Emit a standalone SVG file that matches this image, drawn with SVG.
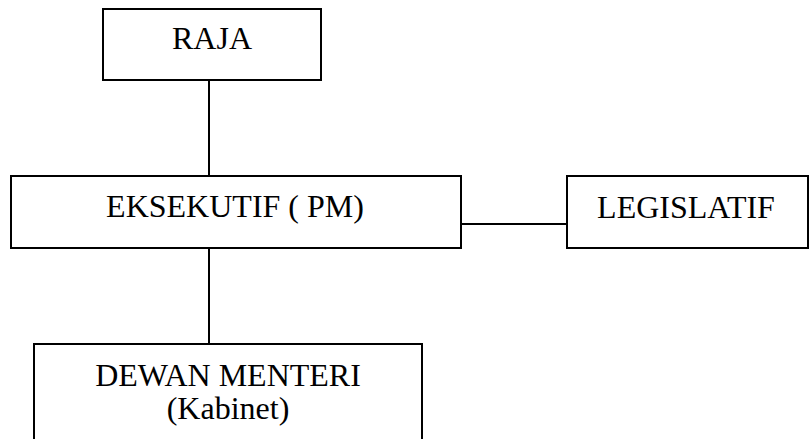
<svg xmlns="http://www.w3.org/2000/svg" width="809" height="439" viewBox="0 0 809 439">
<style>
.box{fill:#fff;stroke:#000;stroke-width:2}
.ln{stroke:#000;stroke-width:2;fill:none}
.t{font-family:"Liberation Serif","Times New Roman",serif;font-size:32px;fill:#000;text-anchor:middle}
</style>
<rect width="809" height="439" fill="#fff"/>
<g id="connectors">
<line class="ln" x1="209" y1="80" x2="209" y2="176"/>
<line class="ln" x1="209" y1="248" x2="209" y2="344"/>
<line class="ln" x1="461" y1="224" x2="567" y2="224"/>
</g>
<g id="raja">
<rect class="box" x="103" y="9" width="218" height="71"/>
<text class="t" x="212" y="49">RAJA</text>
</g>
<g id="eksekutif">
<rect class="box" x="11" y="176" width="450" height="72"/>
<text class="t" x="235" y="217">EKSEKUTIF ( PM)</text>
</g>
<g id="legislatif">
<rect class="box" x="567" y="176" width="241" height="72"/>
<text class="t" x="686" y="218">LEGISLATIF</text>
</g>
<g id="dewan">
<rect class="box" x="34" y="344" width="388" height="110"/>
<text class="t" x="228" y="386">DEWAN MENTERI</text>
<text class="t" x="228" y="419">(Kabinet)</text>
</g>
</svg>
